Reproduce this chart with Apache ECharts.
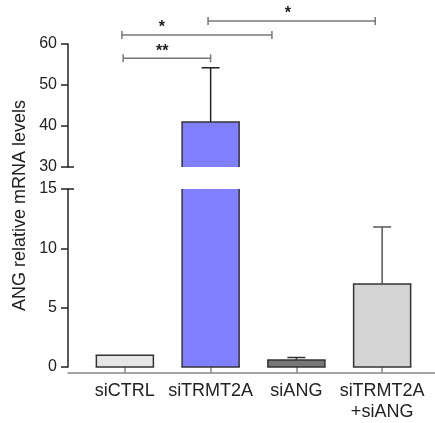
<!DOCTYPE html>
<html>
<head>
<meta charset="utf-8">
<script src="https://cdn.jsdelivr.net/npm/echarts@6/dist/echarts.min.js"></script>
<style>
  html, body { margin: 0; padding: 0; background: #fff; }
  #chart { width: 435px; height: 423px; }
</style>
</head>
<body>
<div id="chart"></div>
<script>
// data
var categories = ['siCTRL', 'siTRMT2A', 'siANG', 'siTRMT2A\n+siANG'];
var means = [1.0, 41.0, 0.6, 7.0];
var errTop = [1.0, 54.2, 0.8, 11.8];
var upperRange = [30, 60];
var lowerRange = [0, 15];
// significance brackets: from / to (category index), height (value), mark, mark position
var sigFrom = [-0.02, -0.035, 0.97];
var sigTo = [1.0, 1.715, 2.92];
var sigLevel = [56.5, 62.2, 65.6];
var sigMark = ['**', '*', '*'];
var sigMarkAt = [0.435, 0.43, 1.9];

var barColors = ['#e6e6e6', '#8080ff', '#777777', '#d4d4d4'];
var errColors = ['#333', '#222', '#333', '#555'];
var font = 'Liberation Sans, Arial, sans-serif';
var barW = 57;

var chart = echarts.init(document.getElementById('chart'));

var barData = means.map(function (v, i) { return [i, v]; });

var errUpper = [], errLower = [];
means.forEach(function (m, i) {
    if (errTop[i] <= m) return;
    if (m >= upperRange[0]) errUpper.push([i, m, errTop[i]]);
    else errLower.push([i, m, errTop[i]]);
});

var sigData = sigMark.map(function (m, i) {
    return [sigFrom[i], sigTo[i], sigLevel[i], sigMarkAt[i]];
});

// bar drawn as fill + outline; edges cut by the axis break get no outline
function renderBar(params, api) {
    var i = api.value(0);
    var cs = params.coordSys;
    var yMin = cs.y, yMax = cs.y + cs.height;
    var x = api.coord([i, 0])[0];
    var yTop = api.coord([i, api.value(1)])[1];
    var yBase = api.coord([i, 0])[1];
    if (yBase <= yMin || yTop >= yMax) return null;
    var topCut = yTop < yMin, baseCut = yBase > yMax;
    var t = Math.max(yTop, yMin), b = Math.min(yBase, yMax);
    var l = x - barW / 2, r = x + barW / 2;
    var st = { stroke: '#333', lineWidth: 1.5 };
    var kids = [
        { type: 'rect', shape: { x: l, y: t, width: barW, height: b - t }, style: { fill: barColors[i] } },
        { type: 'line', shape: { x1: l, y1: t, x2: l, y2: b }, style: st },
        { type: 'line', shape: { x1: r, y1: t, x2: r, y2: b }, style: st }
    ];
    if (!topCut) kids.push({ type: 'line', shape: { x1: l - 0.75, y1: t, x2: r + 0.75, y2: t }, style: st });
    if (!baseCut) kids.push({ type: 'line', shape: { x1: l - 0.75, y1: b, x2: r + 0.75, y2: b }, style: st });
    return { type: 'group', children: kids };
}

function renderErr(params, api) {
    var i = api.value(0);
    var base = api.coord([i, api.value(1)]);
    var top = api.coord([i, api.value(2)]);
    var c = errColors[i];
    return {
        type: 'group',
        children: [
            { type: 'line', shape: { x1: base[0], y1: base[1], x2: top[0], y2: top[1] }, style: { stroke: c, lineWidth: 1.5 } },
            { type: 'line', shape: { x1: top[0] - 9, y1: top[1], x2: top[0] + 9, y2: top[1] }, style: { stroke: c, lineWidth: 1.5 } }
        ]
    };
}

function xAt(api, idx, y) {
    var p0 = api.coord([0, y]);
    var p1 = api.coord([1, y]);
    return p0[0] + idx * (p1[0] - p0[0]);
}

function renderSig(params, api) {
    var y = api.coord([0, api.value(2)])[1];
    var x1 = xAt(api, api.value(0), api.value(2));
    var x2 = xAt(api, api.value(1), api.value(2));
    var xm = xAt(api, api.value(3), api.value(2));
    var st = { stroke: '#777', lineWidth: 1.5 };
    return {
        type: 'group',
        children: [
            { type: 'line', shape: { x1: x1, y1: y, x2: x2, y2: y }, style: st },
            { type: 'line', shape: { x1: x1, y1: y - 4, x2: x1, y2: y + 4 }, style: st },
            { type: 'line', shape: { x1: x2, y1: y - 4, x2: x2, y2: y + 4 }, style: st },
            { type: 'text', x: xm, y: y - 7, style: { text: sigMark[params.dataIndex], fill: '#222', font: 'bold 16px ' + font, align: 'center', verticalAlign: 'middle' } }
        ]
    };
}

var yLabel = { fontSize: 16, color: '#222', fontFamily: font, margin: 11 };
var yLine = { show: true, lineStyle: { color: '#222', width: 1.5 } };
var yTick = { show: true, length: 7, lineStyle: { color: '#222', width: 1.5 } };

var option = {
    animation: false,
    grid: [
        { left: 82, width: 343, top: 44, height: 123 },
        { left: 82, width: 343, top: 189, height: 184 },
        { left: 68, right: 0, top: 189, height: 184 }
    ],
    xAxis: [
        { gridIndex: 0, type: 'category', data: categories, show: false },
        {
            gridIndex: 1, type: 'category', data: categories,
            axisLine: { show: false },
            axisTick: { show: true, alignWithLabel: true, length: 6, lineStyle: { color: '#888', width: 1.5 } },
            axisLabel: { fontSize: 18, color: '#222', fontFamily: font, margin: 14, lineHeight: 21, interval: 0 }
        },
        {
            gridIndex: 2, type: 'value', min: 0, max: 1,
            axisLine: { show: true, onZero: false, lineStyle: { color: '#888', width: 1.5 } },
            axisTick: { show: false }, axisLabel: { show: false }, splitLine: { show: false }
        }
    ],
    yAxis: [
        {
            gridIndex: 0, type: 'value', min: upperRange[0], max: upperRange[1], interval: 10, offset: 14,
            axisLine: yLine, axisTick: yTick, axisLabel: yLabel, splitLine: { show: false }
        },
        {
            gridIndex: 1, type: 'value', min: lowerRange[0], max: lowerRange[1], interval: 5, offset: 14,
            axisLine: yLine, axisTick: yTick, axisLabel: yLabel, splitLine: { show: false }
        },
        { gridIndex: 2, type: 'value', min: lowerRange[0], max: lowerRange[1], show: false }
    ],
    series: [
        { type: 'custom', xAxisIndex: 0, yAxisIndex: 0, data: barData, renderItem: renderBar, clip: false, z: 2 },
        { type: 'custom', xAxisIndex: 1, yAxisIndex: 1, data: barData, renderItem: renderBar, clip: false, z: 2 },
        { type: 'custom', xAxisIndex: 0, yAxisIndex: 0, data: errUpper, renderItem: renderErr, z: 3 },
        { type: 'custom', xAxisIndex: 1, yAxisIndex: 1, data: errLower, renderItem: renderErr, z: 3 },
        { type: 'custom', xAxisIndex: 0, yAxisIndex: 0, data: sigData, renderItem: renderSig, clip: false, z: 4 }
    ]
};

chart.setOption(option);

// axis break marks and axis title
var axisX = chart.convertToPixel({ xAxisIndex: 2 }, 0);
var yBreakTop = chart.convertToPixel({ yAxisIndex: 0 }, upperRange[0]);
var yBreakLow = chart.convertToPixel({ yAxisIndex: 1 }, lowerRange[1]);
var yTopEnd = chart.convertToPixel({ yAxisIndex: 0 }, upperRange[1]);
var yBottomEnd = chart.convertToPixel({ yAxisIndex: 1 }, lowerRange[0]);
var markStyle = { stroke: '#222', lineWidth: 1.5 };

chart.setOption({
    graphic: [
        { type: 'line', shape: { x1: axisX, y1: yBreakTop, x2: axisX + 6, y2: yBreakTop }, style: markStyle },
        { type: 'line', shape: { x1: axisX, y1: yBreakLow, x2: axisX + 6, y2: yBreakLow }, style: markStyle },
        {
            type: 'text', x: 20, y: (yTopEnd + yBottomEnd) / 2, rotation: Math.PI / 2,
            style: { text: 'ANG relative mRNA levels', font: '18px ' + font, fill: '#222', align: 'center', verticalAlign: 'middle' }
        }
    ]
});
</script>
</body>
</html>
